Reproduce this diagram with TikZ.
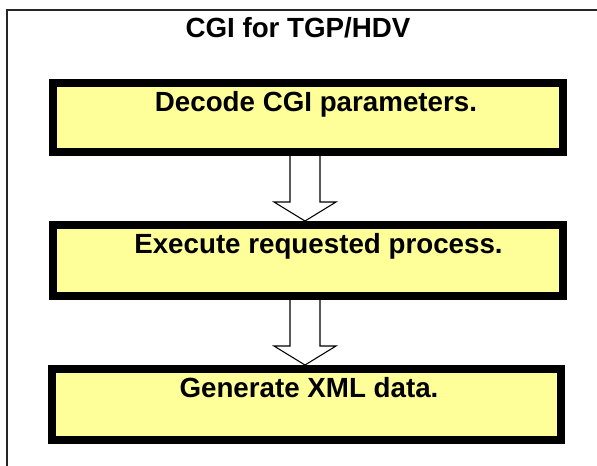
\documentclass[tikz,border=0pt]{standalone}
\usepackage{fontspec}
\setmainfont{Liberation Sans}
\usetikzlibrary{calc}
\definecolor{boxyellow}{RGB}{255,255,153}
\tikzset{
  stepbox/.style={draw=black, line width=6pt, fill=boxyellow, rectangle, inner sep=0pt},
  lbl/.style={anchor=base, inner sep=0pt, font=\fontsize{20.8pt}{24pt}\selectfont\bfseries},
  blockarrow/.style={draw=black, fill=white, line width=0.8pt, line join=miter},
  frame/.style={draw=black!85, line width=1.3pt}
}
\begin{document}
\begin{tikzpicture}[x=0.75pt,y=-0.75pt]
\useasboundingbox (0,0) rectangle (597,465);
\draw[frame] (597,10) -- (7,10) -- (7,466);
\node[lbl] (title) at (298,37) {CGI for TGP/HDV};
\node[stepbox, minimum width=382.5pt, minimum height=51.75pt] (b1) at (308,117.5) {};
\node[stepbox, minimum width=382.5pt, minimum height=53.25pt] (b2) at (308,260.5) {};
\node[stepbox, minimum width=381.75pt, minimum height=53.25pt] (b3) at (306.5,404.5) {};
\node[lbl] (t1) at (316,111) {Decode CGI parameters.};
\node[lbl] (t2) at (318.5,253) {Execute requested process.};
\node[lbl] (t3) at (309,397) {Generate XML data.};
\draw[blockarrow] ($(b1.south)+(-18,0)$) -- ++(0,46) -- ++(-16,0) -- ($(b2.north)+(-3,0)$) -- ++(31,-19) -- ++(-16,0) -- ++(0,-46);
\draw[blockarrow] ($(b2.south)+(-18,0)$) -- ++(0,46) -- ++(-16,0) -- ($(b3.north)+(-1.5,0)$) -- ++(31,-19) -- ++(-16,0) -- ++(0,-46);
\end{tikzpicture}
\end{document}
